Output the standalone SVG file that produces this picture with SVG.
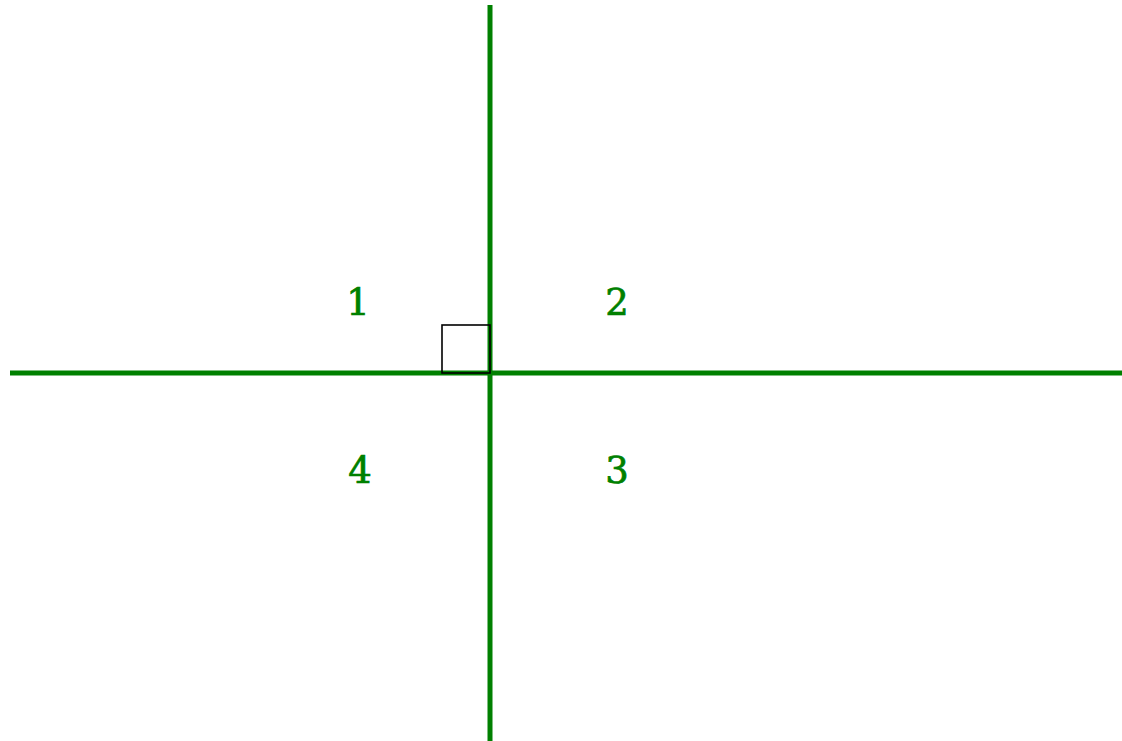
<svg xmlns="http://www.w3.org/2000/svg" width="1122" height="741" viewBox="0 0 1122 741">
<style>
.axis{stroke:#008000;stroke-width:5;fill:none}
.lbl{font-family:"DejaVu Serif","Liberation Serif",serif;font-size:37px;fill:#008000;stroke:#008000;stroke-width:0.7;text-anchor:middle}
</style>
<rect width="1122" height="741" fill="#ffffff"/>
<g id="connectors">
<line class="axis" x1="10" y1="373" x2="1122" y2="373"/>
<line class="axis" x1="490" y1="5" x2="490" y2="741"/>
</g>
<g id="right-angle">
<rect x="442" y="325" width="48" height="48" fill="none" stroke="#000000" stroke-width="1.6"/>
</g>
<g id="q1"><text class="lbl" x="358" y="315">1</text></g>
<g id="q2"><text class="lbl" x="617" y="315">2</text></g>
<g id="q3"><text class="lbl" x="617" y="483">3</text></g>
<g id="q4"><text class="lbl" x="360" y="483">4</text></g>
</svg>
